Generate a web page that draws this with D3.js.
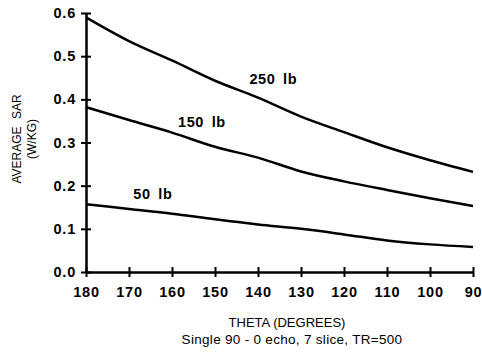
<!DOCTYPE html>
<html lang="en">
<head>
  <meta charset="UTF-8">
  <title>Average SAR vs Theta</title>
  <script src="https://d3js.org/d3.v7.min.js"></script>
  <style>
    body { margin: 0; background: #fff; }
    text { font-family: "Liberation Sans", Arial, sans-serif; fill: #000; }
  </style>
</head>
<body>
  <div id="chart"></div>
  <script>
    // theta values (degrees) at which curves were read
    const theta = [180, 170, 160, 150, 140, 130, 120, 110, 100, 90];
    const sar250 = [0.59, 0.535, 0.49, 0.443, 0.404, 0.36, 0.324, 0.289, 0.259, 0.232];
    const sar150 = [0.382, 0.352, 0.323, 0.29, 0.265, 0.233, 0.21, 0.19, 0.171, 0.153];
    const sar50 = [0.157, 0.146, 0.135, 0.122, 0.11, 0.1, 0.087, 0.073, 0.064, 0.058];
    const seriesNames = ['250 lb', '150 lb', '50 lb'];
    // label anchor positions in data units
    const labelTheta = [142, 158.6, 169];
    const labelSar = [0.435, 0.336, 0.169];
    const xTicks = [180, 170, 160, 150, 140, 130, 120, 110, 100, 90];
    const yTicks = [0, 0.1, 0.2, 0.3, 0.4, 0.5, 0.6];

    const width = 482, height = 356;
    const margin = { top: 13, right: 9, bottom: 84, left: 86 };

    const svg = d3.select('#chart').append('svg')
      .attr('width', width)
      .attr('height', height);

    const x = d3.scaleLinear().domain([180, 90]).range([margin.left, width - margin.right]);
    const y = d3.scaleLinear().domain([0, 0.6]).range([height - margin.bottom, margin.top]);

    // axes
    const xAxis = svg.append('g')
      .attr('transform', `translate(0,${y(0)})`)
      .call(d3.axisBottom(x).tickValues(xTicks).tickSize(0).tickPadding(15).tickFormat(d3.format('d')));
    xAxis.select('.domain').attr('stroke', '#000').attr('stroke-width', 2.5);
    xAxis.selectAll('.tick line').attr('y1', -5).attr('y2', 5).attr('stroke', '#000').attr('stroke-width', 2);

    const yAxis = svg.append('g')
      .attr('transform', `translate(${x(180)},0)`)
      .call(d3.axisLeft(y).tickValues(yTicks).tickSize(0).tickPadding(10).tickFormat(d3.format('.1f')));
    yAxis.select('.domain').attr('stroke', '#000').attr('stroke-width', 2.5);
    yAxis.selectAll('.tick line').attr('x1', -5).attr('x2', 5).attr('stroke', '#000').attr('stroke-width', 2);

    svg.selectAll('.tick text')
      .style('font-family', '"Liberation Sans", Arial, sans-serif')
      .style('font-size', '14.5px')
      .style('font-weight', 'bold')
      .style('letter-spacing', '0.8px')
      .attr('fill', '#000');

    // curves
    const series = [sar250, sar150, sar50];
    const line = d3.line()
      .x((d, i) => x(theta[i]))
      .y(d => y(d))
      .curve(d3.curveMonotoneX);

    svg.selectAll('path.curve')
      .data(series)
      .join('path')
      .attr('class', 'curve')
      .attr('d', line)
      .attr('fill', 'none')
      .attr('stroke', '#000')
      .attr('stroke-width', 2.5);

    svg.selectAll('text.lbl')
      .data(seriesNames)
      .join('text')
      .attr('class', 'lbl')
      .attr('x', (d, i) => x(labelTheta[i]))
      .attr('y', (d, i) => y(labelSar[i]))
      .style('font-size', '14.5px')
      .style('font-weight', 'bold')
      .style('letter-spacing', '0.6px')
      .style('word-spacing', '3px')
      .text(d => d);

    // axis titles
    const yt = svg.append('text')
      .attr('transform', 'translate(21,139) rotate(-90)')
      .attr('text-anchor', 'middle')
      .style('font-size', '12px');
    yt.append('tspan').attr('x', 0).attr('dy', 0).style('word-spacing', '4px').text('AVERAGE SAR');
    yt.append('tspan').attr('x', 0).attr('dy', 15).text('(W/KG)');

    svg.append('text')
      .attr('x', 287).attr('y', 327)
      .attr('text-anchor', 'middle')
      .style('font-size', '13px')
      .text('THETA (DEGREES)');

    svg.append('text')
      .attr('x', 292).attr('y', 344)
      .attr('text-anchor', 'middle')
      .style('font-size', '13.5px')
      .style('letter-spacing', '0.3px')
      .text('Single 90 - 0 echo, 7 slice, TR=500');
  </script>
</body>
</html>
